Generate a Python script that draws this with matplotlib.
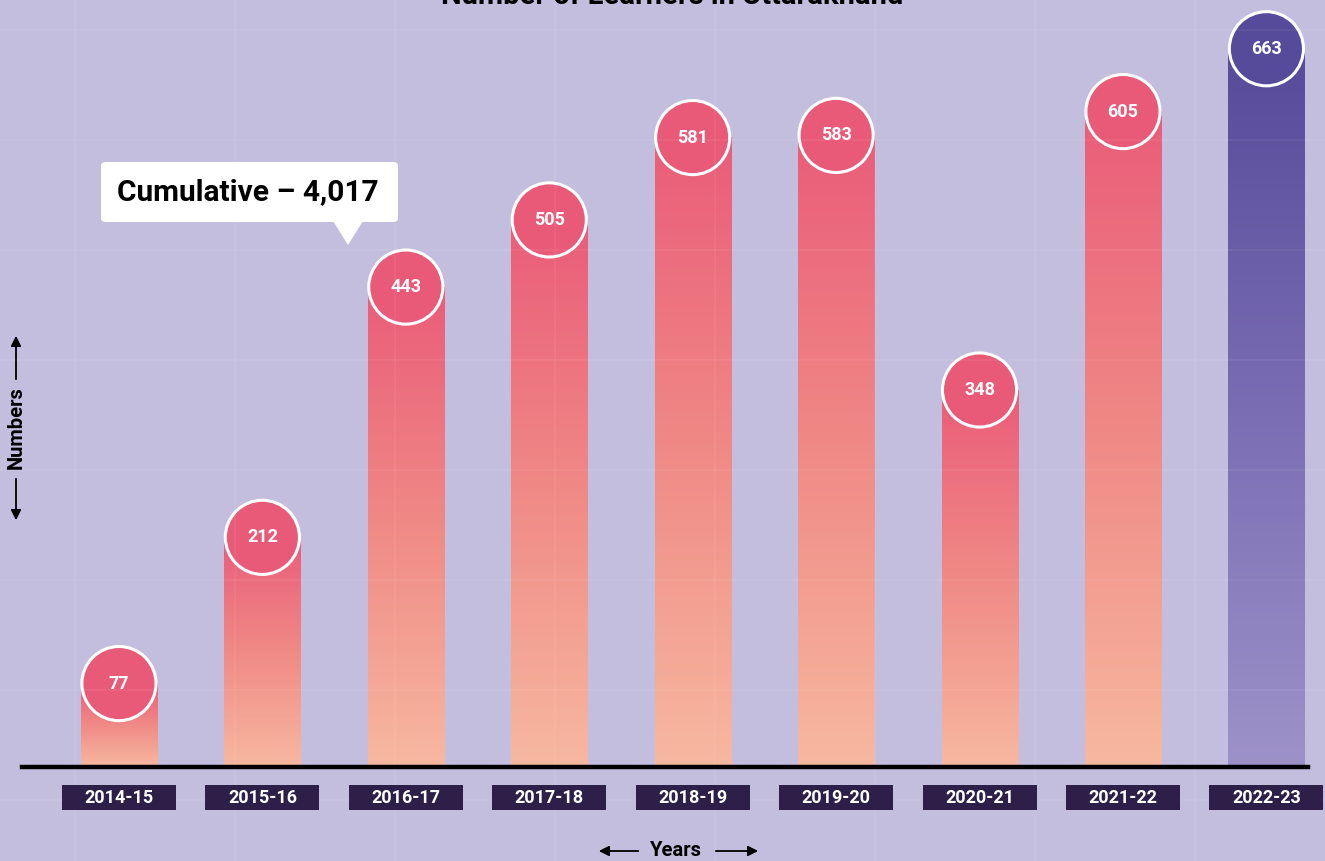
import numpy as np
import matplotlib
matplotlib.use("Agg")
import matplotlib.pyplot as plt
from matplotlib.colors import LinearSegmentedColormap
from matplotlib.patches import FancyBboxPatch, Polygon, Rectangle, FancyArrowPatch
from matplotlib.transforms import blended_transform_factory

plt.rcParams['font.family'] = ['Roboto', 'DejaVu Sans']

# data
years = ['2014-15', '2015-16', '2016-17', '2017-18', '2018-19',
         '2019-20', '2020-21', '2021-22', '2022-23']
learners = [77, 212, 443, 505, 581, 583, 348, 605, 663]
cumulative = 4017
title = 'Number of Learners in Uttarakhand'

W, H = 1325, 861
bg = '#c3bedd'
pink_cmap = LinearSegmentedColormap.from_list('pk', ['#f7b8a0', '#f08a86', '#ea5c79'])
purple_cmap = LinearSegmentedColormap.from_list('pu', ['#9d92c8', '#7a6db4', '#564a9a'])

fig = plt.figure(figsize=(W / 100, H / 100), dpi=100, facecolor=bg)

def fx(px):
    return px / W

def fy(py):
    return 1 - py / H

# faint background grid
for xx in np.arange(75, W, 160):
    fig.add_artist(plt.Line2D([fx(xx), fx(xx)], [0, 1], color='white', alpha=0.05, lw=1.5))
for yy in np.arange(30, H, 110):
    fig.add_artist(plt.Line2D([0, 1], [fy(yy), fy(yy)], color='white', alpha=0.05, lw=1.5))

ax = fig.add_axes([fx(22), fy(767), fx(1308) - fx(22), fy(0) - fy(767)])
ax.set_facecolor('none')
for s in ax.spines.values():
    s.set_visible(False)
ax.set_xticks([])
ax.set_yticks([])

bw = 0.53
grad = np.linspace(0, 1, 256).reshape(-1, 1)
for i, v in enumerate(learners):
    cmap = purple_cmap if i == len(learners) - 1 else pink_cmap
    ax.imshow(grad, cmap=cmap, origin='lower', aspect='auto',
              extent=[i - bw / 2, i + bw / 2, 0, v], zorder=2)
ax.set_xlim(-0.676, 8.29)
ax.set_ylim(0, 708)

# value bubbles
cols = ['#e95a78'] * (len(learners) - 1) + ['#564a9a']
ax.scatter(range(len(learners)), learners, s=2850, c=cols, edgecolors='white',
           linewidths=2.2, zorder=4, clip_on=False)
for i, v in enumerate(learners):
    ax.text(i, v, str(v), ha='center', va='center', color='white',
            fontsize=13, fontweight='bold', zorder=5)

# baseline
fig.add_artist(plt.Line2D([fx(22), fx(1308)], [fy(767), fy(767)], color='black', lw=3.2))

# year labels in dark boxes
tr = blended_transform_factory(ax.transData, fig.transFigure)
box_w = 114 / 143.4
for i, yr in enumerate(years):
    fig.add_artist(Rectangle((i - box_w / 2, fy(810)), box_w, fy(785) - fy(810),
                             transform=tr, fc='#2e1f48', ec='none', zorder=4))
    fig.text(i, fy(798), yr, transform=tr, ha='center', va='center',
             color='white', fontsize=13, fontweight='bold', zorder=5)

# callout box
box = FancyBboxPatch((fx(101), fy(222)), fx(398) - fx(101), fy(162) - fy(222),
                     boxstyle='round,pad=0,rounding_size=0.004', transform=fig.transFigure,
                     fc='white', ec='none', zorder=6)
fig.add_artist(box)
tri = Polygon([[fx(333), fy(221)], [fx(363), fy(221)], [fx(348), fy(245)]],
              closed=True, transform=fig.transFigure, fc='white', ec='none', zorder=6)
fig.add_artist(tri)
fig.text(fx(117), fy(192), f'Cumulative \u2013 {cumulative:,}', ha='left', va='center',
         fontsize=21.5, fontweight='bold', color='black', zorder=7)

# title (cut at top edge as in the graphic)
fig.text(0.507, fy(4), title, ha='center', va='baseline', fontsize=21,
         fontweight='bold', color='black')

# axis names with arrows
arr = dict(arrowstyle='-|>', color='black', lw=1.3, mutation_scale=15)
fig.text(fx(16), fy(428), 'Numbers', rotation=90, ha='center', va='center',
         fontsize=14.5, fontweight='bold')
fig.add_artist(FancyArrowPatch((fx(16), fy(382)), (fx(16), fy(333)),
               transform=fig.transFigure, **arr))
fig.add_artist(FancyArrowPatch((fx(16), fy(476)), (fx(16), fy(523)),
               transform=fig.transFigure, **arr))
fig.text(fx(676), fy(851), 'Years', ha='center', va='center', fontsize=14.5, fontweight='bold')
fig.add_artist(FancyArrowPatch((fx(641), fy(851)), (fx(596), fy(851)),
               transform=fig.transFigure, **arr))
fig.add_artist(FancyArrowPatch((fx(713), fy(851)), (fx(761), fy(851)),
               transform=fig.transFigure, **arr))

fig.savefig('out.png', dpi=100, facecolor=bg)
